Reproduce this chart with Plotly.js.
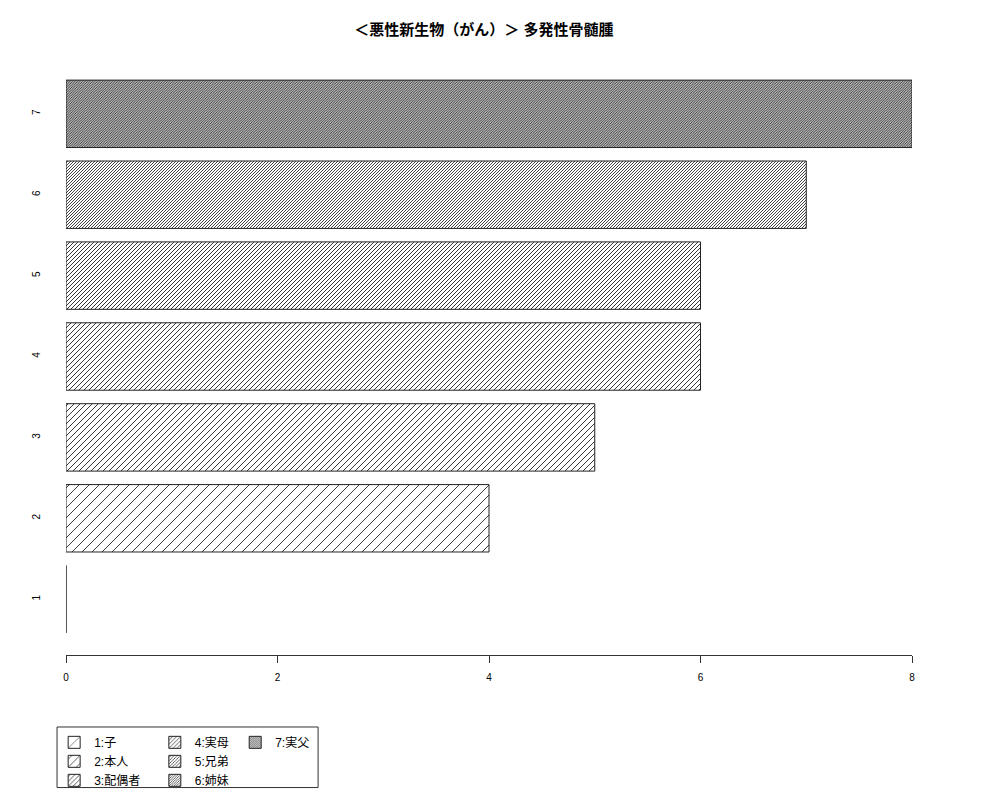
<!DOCTYPE html>
<html>
<head>
<meta charset="utf-8">
<script src="https://cdn.plot.ly/plotly-3.0.1.min.js"></script>
<style>
  body { margin: 0; background: #fff; }
  #chart { width: 1000px; height: 800px; }
</style>
</head>
<body>
<div id="chart"></div>
<script>
// categories on the y axis, counts and legend names
const categories = ["1", "2", "3", "4", "5", "6", "7"];
const counts = [0, 4, 5, 6, 6, 7, 8];
const legendNames = ["1:子", "2:本人", "3:配偶者", "4:実母", "5:兄弟", "6:姉妹", "7:実父"];
const xTicks = [0, 2, 4, 6, 8];

const FONT = "Liberation Sans, Arial, Noto Sans CJK JP, sans-serif";

// hatch spacing in px, denser with each category (like R's density argument)
const hatchSpacing = [19, 10, 6, 5, 4, 3, 2.5];
const hatchWidth = [0.9, 0.9, 0.9, 0.9, 0.9, 0.85, 1.0];

const legendFor = (i) => (i < 3 ? "legend" : i < 6 ? "legend2" : "legend3");

const traces = categories.map((cat, i) => {
  const size = hatchSpacing[i] / Math.SQRT2;
  return {
    type: "bar",
    orientation: "h",
    y: [cat],
    x: [counts[i]],
    name: legendNames[i],
    legend: legendFor(i),
    marker: {
      color: "white",
      line: { color: "#222", width: 1 },
      pattern: {
        shape: "/",
        size: size,
        solidity: Math.min(0.9, hatchWidth[i] / size),
        fgcolor: "#222",
        bgcolor: "white",
      },
    },
    hoverinfo: "x+name",
  };
});

const legendBase = {
  orientation: "v",
  xref: "paper",
  yref: "paper",
  yanchor: "top",
  y: -0.122,
  bgcolor: "rgba(0,0,0,0)",
  borderwidth: 0,
  font: { family: FONT, size: 12, color: "#000" },
  itemwidth: 30,
  traceorder: "normal",
};

const layout = {
  width: 1000,
  height: 800,
  margin: { l: 66, r: 88, t: 58, b: 145, autoexpand: false },
  paper_bgcolor: "white",
  plot_bgcolor: "white",
  font: { family: FONT, size: 10, color: "#000" },
  title: {
    text: "＜悪性新生物（がん）＞ 多発性骨髄腫",
    font: { family: FONT, size: 15, weight: "bold", color: "#000" },
    x: 0.494,
    xref: "paper",
    xanchor: "center",
    y: 1 - 30 / 800,
    yanchor: "middle",
  },
  barmode: "overlay",
  bargap: 1 - 1 / 1.2,
  xaxis: {
    range: [0, 8],
    tickvals: xTicks,
    ticks: "outside",
    ticklen: 7,
    tickcolor: "#333",
    showline: true,
    linecolor: "#333",
    linewidth: 1,
    showgrid: false,
    zeroline: false,
    ticklabelstandoff: 6,
    tickfont: { size: 10 },
  },
  yaxis: {
    type: "category",
    categoryorder: "array",
    categoryarray: categories,
    range: [-0.69, 6.69],
    showline: false,
    showgrid: false,
    zeroline: false,
    ticks: "",
    tickangle: -90,
    ticklabelstandoff: 23,
    tickfont: { size: 10 },
  },
  showlegend: true,
  legend: Object.assign({}, legendBase, { x: -0.014 }),
  legend2: Object.assign({}, legendBase, { x: 0.105 }),
  legend3: Object.assign({}, legendBase, { x: 0.2 }),
  shapes: [
    {
      type: "rect",
      xref: "paper",
      yref: "paper",
      x0: -0.0106,
      x1: 0.298,
      y0: -0.1206,
      y1: -0.222,
      line: { color: "#333", width: 1 },
      fillcolor: "rgba(0,0,0,0)",
    },
  ],
};

Plotly.newPlot("chart", traces, layout, { displayModeBar: false, staticPlot: true });
</script>
</body>
</html>
